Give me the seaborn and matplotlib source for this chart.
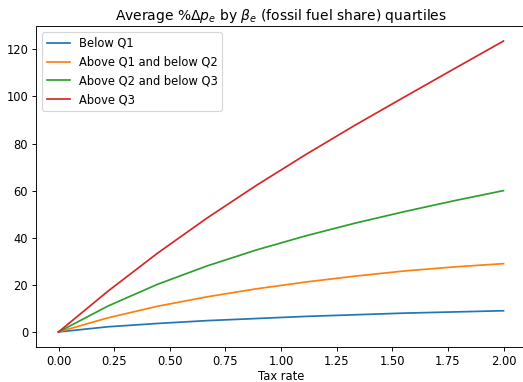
import numpy as np
import pandas as pd
import matplotlib
matplotlib.use("Agg")
import matplotlib.pyplot as plt
import seaborn as sns

# Tax rate grid and average percentage price change per fossil-fuel-share quartile
tax_rate = [0.0, 0.2222, 0.4444, 0.6667, 0.8889, 1.1111, 1.3333, 1.5556, 1.7778, 2.0]
below_q1 = [0.0, 2.2, 3.6, 4.8, 5.7, 6.6, 7.3, 8.0, 8.5, 9.0]
q1_to_q2 = [0.0, 6.0, 10.9, 14.9, 18.3, 21.2, 23.7, 25.9, 27.6, 29.0]
q2_to_q3 = [0.0, 11.0, 20.2, 28.0, 34.8, 40.8, 46.2, 51.1, 55.7, 60.0]
above_q3 = [0.0, 17.3, 33.4, 48.3, 62.2, 75.3, 87.8, 99.8, 111.7, 123.5]

group_names = ["Below Q1", "Above Q1 and below Q2", "Above Q2 and below Q3", "Above Q3"]
series = [below_q1, q1_to_q2, q2_to_q3, above_q3]

df = pd.concat(
    [pd.DataFrame({"tax": tax_rate, "dp": vals, "group": name})
     for name, vals in zip(group_names, series)],
    ignore_index=True,
)

W, H, DPI = 523, 382, 83
fig = plt.figure(figsize=(W / DPI, H / DPI), dpi=DPI)
ax = fig.add_axes([36.25 / W, 1 - 346.5 / H, (525.75 - 36.25) / W, (346.5 - 26.5) / H])

sns.lineplot(data=df, x="tax", y="dp", hue="group", hue_order=group_names,
             palette="tab10", ax=ax, linewidth=1.5)

ticks = np.arange(0, 2.01, 0.25)
ax.set_xticks(ticks)
ax.set_xticklabels([f"{t:.2f}" for t in ticks])
ax.set_yticks(np.arange(0, 121, 20))
ax.set_xlabel("Tax rate", labelpad=2.5)
ax.set_ylabel("")
ax.set_title(r"Average %$\Delta p_e$ by $\beta_e$ (fossil fuel share) quartiles")
ax.legend(loc="upper left", title=None)

fig.savefig("out.png", dpi=DPI)
